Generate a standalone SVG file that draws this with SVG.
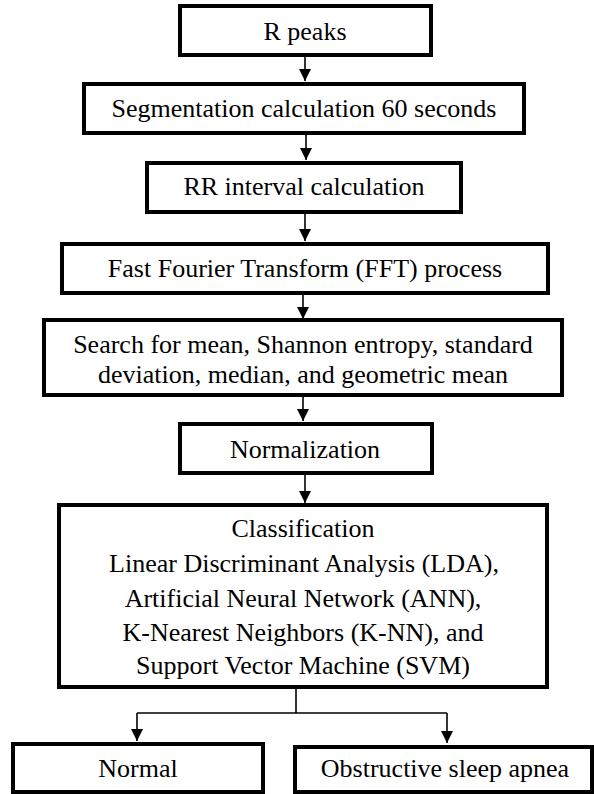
<svg xmlns="http://www.w3.org/2000/svg" width="594" height="794" viewBox="0 0 594 794">
<defs>
  <marker id="ah" viewBox="0 0 12 12" markerWidth="12" markerHeight="12" refX="12" refY="6" orient="auto" markerUnits="userSpaceOnUse">
    <path d="M0,0 L12,6 L0,12 Z" fill="#000"/>
  </marker>
</defs>
<rect width="594" height="794" fill="#fff"/>
<g id="connectors" fill="none" stroke="#000" stroke-width="1.6">
  <line x1="305" y1="57" x2="305" y2="81" marker-end="url(#ah)"/>
  <line x1="306" y1="135" x2="306" y2="160" marker-end="url(#ah)"/>
  <line x1="305" y1="214" x2="305" y2="241" marker-end="url(#ah)"/>
  <line x1="303" y1="295" x2="303" y2="319" marker-end="url(#ah)"/>
  <line x1="303" y1="397" x2="303" y2="421" marker-end="url(#ah)"/>
  <line x1="305" y1="475" x2="305" y2="503" marker-end="url(#ah)"/>
  <polyline points="296,689 296,713"/>
  <polyline points="137,713 447,713"/>
  <line x1="137" y1="713" x2="137" y2="741" marker-end="url(#ah)"/>
  <line x1="447" y1="713" x2="447" y2="743" marker-end="url(#ah)"/>
</g>
<g id="nodes">
<g id="n1">
  <rect x="180" y="6" width="251" height="49" fill="#fff" stroke="#000" stroke-width="4"/>
  <text x="305" y="40" font-family="Liberation Serif" font-size="26" text-anchor="middle">R peaks</text>
</g>
<g id="n2">
  <rect x="84" y="84" width="440" height="49" fill="#fff" stroke="#000" stroke-width="4"/>
  <text x="304" y="117" font-family="Liberation Serif" font-size="26" text-anchor="middle">Segmentation calculation 60 seconds</text>
</g>
<g id="n3">
  <rect x="147" y="163" width="314" height="49" fill="#fff" stroke="#000" stroke-width="4"/>
  <text x="304" y="195" font-family="Liberation Serif" font-size="26" text-anchor="middle">RR interval calculation</text>
</g>
<g id="n4">
  <rect x="62" y="244" width="486" height="49" fill="#fff" stroke="#000" stroke-width="4"/>
  <text x="305" y="277" font-family="Liberation Serif" font-size="26" text-anchor="middle">Fast Fourier Transform (FFT) process</text>
</g>
<g id="n5">
  <rect x="44" y="320" width="518" height="75" fill="#fff" stroke="#000" stroke-width="4"/>
  <text x="303" y="353" font-family="Liberation Serif" font-size="26" text-anchor="middle">Search for mean, Shannon entropy, standard</text>
  <text x="303" y="383" font-family="Liberation Serif" font-size="26" text-anchor="middle">deviation, median, and geometric mean</text>
</g>
<g id="n6">
  <rect x="180" y="424" width="252" height="49" fill="#fff" stroke="#000" stroke-width="4"/>
  <text x="305" y="458" font-family="Liberation Serif" font-size="26" text-anchor="middle">Normalization</text>
</g>
<g id="n7">
  <rect x="59" y="505" width="488" height="182" fill="#fff" stroke="#000" stroke-width="4"/>
  <text x="303" y="537" font-family="Liberation Serif" font-size="26" text-anchor="middle">Classification</text>
  <text x="304" y="572" font-family="Liberation Serif" font-size="26" text-anchor="middle">Linear Discriminant Analysis (LDA),</text>
  <text x="303" y="607" font-family="Liberation Serif" font-size="26" text-anchor="middle">Artificial Neural Network (ANN),</text>
  <text x="303" y="641" font-family="Liberation Serif" font-size="26" text-anchor="middle">K-Nearest Neighbors (K-NN), and</text>
  <text x="303" y="674" font-family="Liberation Serif" font-size="26" text-anchor="middle">Support Vector Machine (SVM)</text>
</g>
<g id="n8">
  <rect x="13" y="744" width="250" height="48" fill="#fff" stroke="#000" stroke-width="4"/>
  <text x="138" y="777" font-family="Liberation Serif" font-size="26" text-anchor="middle">Normal</text>
</g>
<g id="n9">
  <rect x="295" y="747" width="297" height="45" fill="#fff" stroke="#000" stroke-width="4"/>
  <text x="445" y="777" font-family="Liberation Serif" font-size="26" text-anchor="middle">Obstructive sleep apnea</text>
</g>
</g>
</svg>
